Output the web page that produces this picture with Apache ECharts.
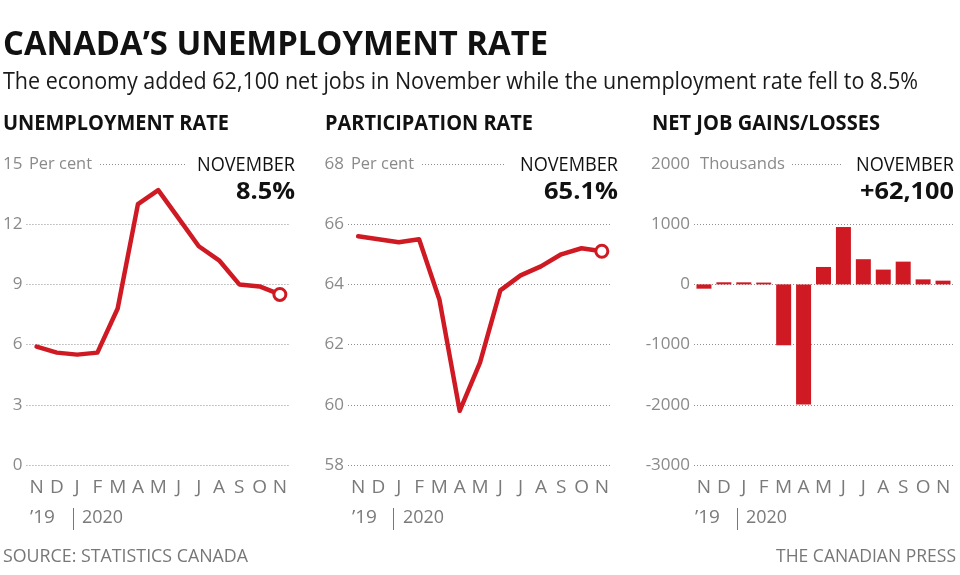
<!DOCTYPE html>
<html>
<head>
<meta charset="utf-8">
<script src="https://cdn.jsdelivr.net/npm/echarts@6/dist/echarts.min.js"></script>
<style>
html,body{margin:0;padding:0;background:#fff;}
#chart{width:960px;height:575px;}
</style>
</head>
<body>
<div id="chart"></div>
<script>
const months = ['N','D','J','F','M','A','M','J','J','A','S','O','N'];
const unemployment = [5.9,5.6,5.5,5.6,7.8,13.0,13.7,12.3,10.9,10.2,9.0,8.9,8.5];
const participation = [65.6,65.5,65.4,65.5,63.5,59.8,61.4,63.8,64.3,64.6,65.0,65.2,65.1];
const netJobs = [-71.2,35.2,34.5,30.3,-1011.2,-1993.8,289.6,952.9,418.5,245.8,378.2,83.6,62.1];
const unemploymentTicks = {min:0,max:15,interval:3};
const participationTicks = {min:58,max:68,interval:2};
const netJobsTicks = {min:-3000,max:2000,interval:1000};

const RED = '#cf1a24';
const FONT = '"Open Sans", "Noto Sans", sans-serif';
const GRAY = '#8a8a8a';
const last = months.length - 1;

const chart = echarts.init(document.getElementById('chart'), null, {renderer:'canvas'});

const mctx = document.createElement('canvas').getContext('2d');
function measure(text, size, weight){
  mctx.font = weight + ' ' + size + 'px ' + FONT;
  return mctx.measureText(text).width;
}
function T(text, x, y, o){
  o = o || {};
  const size = o.size || 18, weight = o.weight || 'normal';
  let sx = 1;
  if (o.width) sx = o.width / measure(text, size, weight);
  return {
    type:'text', x:x, y:y, scaleX:sx, silent:true,
    style:{text:text, fontSize:size, fontWeight:weight, fontFamily:FONT,
      fill:o.color || '#111', align:o.align || 'left', verticalAlign:'middle'}
  };
}
function dots(x1, x2, y){
  return {type:'line', silent:true, shape:{x1:x1,y1:y,x2:x2,y2:y},
    style:{stroke:'#8f8f8f', lineWidth:1, lineDash:[1,2]}};
}
function vbar(x, y1, y2){
  return {type:'line', silent:true, shape:{x1:x,y1:y1,x2:x,y2:y2},
    style:{stroke:'#777', lineWidth:1}};
}

const grids = [
  {left:26, top:164, width:264, height:301},
  {left:348, top:164, width:264, height:301},
  {left:694, top:164, width:259, height:301}
];
const ticks = [unemploymentTicks, participationTicks, netJobsTicks];

const xAxes = grids.map((g,i)=>({
  type:'category', gridIndex:i, data:months, boundaryGap:true,
  axisLine:{show:false}, axisTick:{show:false}, splitLine:{show:false},
  axisLabel:{interval:0, margin:13, color:'#7a7a7a', fontSize:19, fontFamily:FONT, hideOverlap:false}
}));
const yAxes = ticks.map((t,i)=>({
  type:'value', gridIndex:i, min:t.min, max:t.max, interval:t.interval,
  axisLine:{show:false}, axisTick:{show:false},
  splitLine:{show:true, showMaxLine:false, lineStyle:{color:'#8f8f8f', width:1, type:[1,2]}},
  axisLabel:{margin:4, color:GRAY, fontSize:17, fontFamily:FONT, formatter:v => String(v)}
}));

const fmtThousands = v => (v >= 0 ? '+' : '-') + Math.round(Math.abs(v) * 1000).toLocaleString('en-US');

const graphics = [
  T('CANADA\u2019S UNEMPLOYMENT RATE', 3, 45, {size:34, weight:'bold', width:545, color:'#111'}),
  T('The economy added 62,100 net jobs in November while the unemployment rate fell to 8.5%', 3, 82.5, {size:23, width:915, color:'#1a1a1a'}),
  T('UNEMPLOYMENT RATE', 3, 124, {size:22, weight:'bold', width:226}),
  T('PARTICIPATION RATE', 325, 124, {size:22, weight:'bold', width:208}),
  T('NET JOB GAINS/LOSSES', 652, 124, {size:22, weight:'bold', width:228}),
  // panel 1 header
  T('Per cent', 29, 164, {size:17, color:GRAY, width:63}),
  dots(100, 185, 164.5),
  T('NOVEMBER', 295, 165, {size:20, align:'right', width:98}),
  T(unemployment[last].toFixed(1) + '%', 295, 192, {size:24, weight:'bold', align:'right', width:59}),
  // panel 2 header
  T('Per cent', 351, 164, {size:17, color:GRAY, width:63}),
  dots(422, 505, 164.5),
  T('NOVEMBER', 618, 165, {size:20, align:'right', width:98}),
  T(participation[last].toFixed(1) + '%', 618, 192, {size:24, weight:'bold', align:'right', width:74}),
  // panel 3 header
  T('Thousands', 700, 164, {size:17, color:GRAY, width:85}),
  dots(792, 843, 164.5),
  T('NOVEMBER', 954, 165, {size:20, align:'right', width:98}),
  T(fmtThousands(netJobs[last]), 954, 192, {size:24, weight:'bold', align:'right', width:94}),
  // year labels
  T('\u201919', 30, 517.5, {size:19, color:'#7a7a7a'}), vbar(73.5, 508, 530), T('2020', 82, 517.5, {size:19, color:'#7a7a7a', width:41}),
  T('\u201919', 352, 517.5, {size:19, color:'#7a7a7a'}), vbar(393.5, 508, 530), T('2020', 403, 517.5, {size:19, color:'#7a7a7a', width:41}),
  T('\u201919', 695, 517.5, {size:19, color:'#7a7a7a'}), vbar(737.5, 508, 530), T('2020', 746, 517.5, {size:19, color:'#7a7a7a', width:41}),
  // footer
  T('SOURCE: STATISTICS CANADA', 3, 557, {size:19, color:'#777', width:245}),
  T('THE CANADIAN PRESS', 956, 557, {size:19, color:'#777', align:'right', width:180})
];

const lineSeries = (data, i) => ({
  type:'line', xAxisIndex:i, yAxisIndex:i, data:data,
  symbol:(v, p) => p.dataIndex === last ? 'circle' : 'none',
  symbolSize:12, showSymbol:true,
  lineStyle:{color:RED, width:4.5, cap:'round', join:'round'},
  itemStyle:{color:'#fff', borderColor:RED, borderWidth:3},
  emphasis:{disabled:true}, animation:false, z:3
});

chart.setOption({
  animation:false,
  backgroundColor:'#fff',
  grid:grids,
  xAxis:xAxes,
  yAxis:yAxes,
  series:[
    lineSeries(unemployment, 0),
    lineSeries(participation, 1),
    {type:'bar', xAxisIndex:2, yAxisIndex:2, data:netJobs, barWidth:15,
      itemStyle:{color:RED}, emphasis:{disabled:true}, animation:false}
  ],
  graphic:graphics
});
</script>
</body>
</html>
